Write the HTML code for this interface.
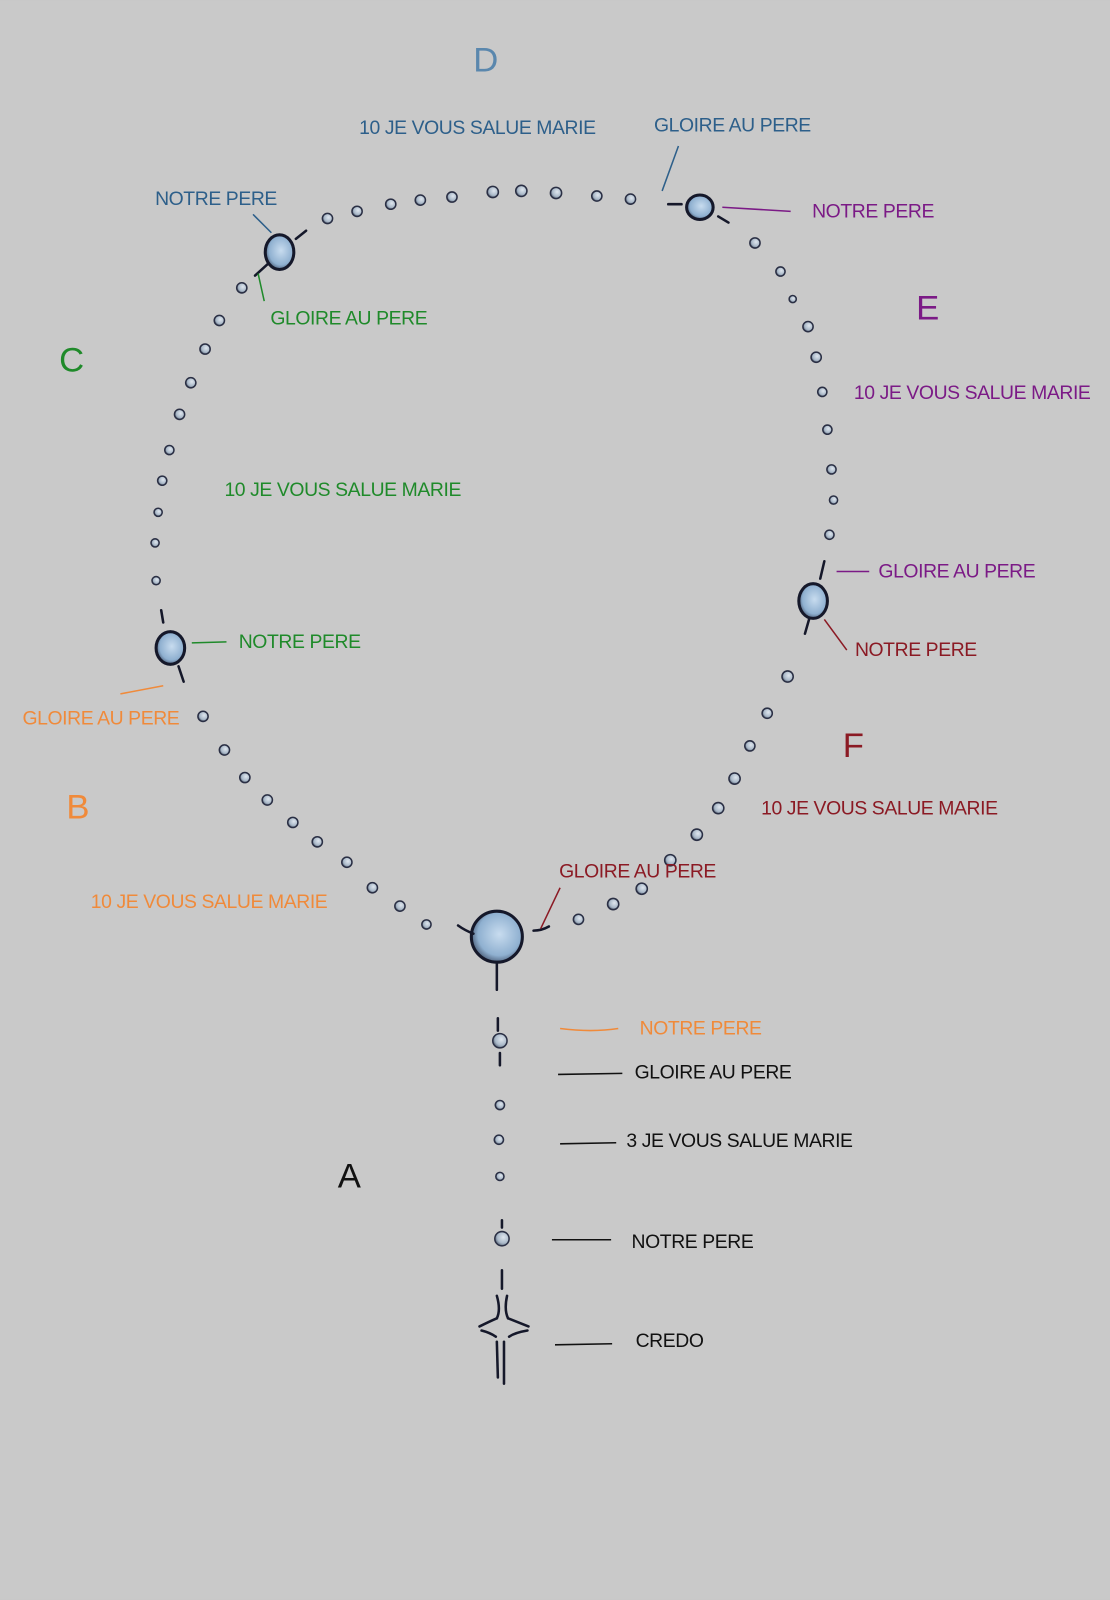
<!DOCTYPE html>
<html><head><meta charset="utf-8"><style>
html,body{margin:0;padding:0;background:#c9c9c9;}
svg{display:block}
text{font-family:"Liberation Sans",sans-serif;}
</style></head><body>
<svg width="1110" height="1600" viewBox="0 0 1088 1568" xmlns="http://www.w3.org/2000/svg">
<rect width="1088" height="1568" fill="#c9c9c9"/>
<defs>
<radialGradient id="bg" cx="0.6" cy="0.4" r="0.7"><stop offset="0" stop-color="#dfe6ee"/><stop offset="0.6" stop-color="#a9b8c8"/><stop offset="1" stop-color="#3a4458"/></radialGradient>
<radialGradient id="big" cx="0.55" cy="0.45" r="0.6"><stop offset="0" stop-color="#c8dcef"/><stop offset="0.7" stop-color="#8fb0d0"/><stop offset="1" stop-color="#40506a"/></radialGradient>
</defs>
<g fill="url(#bg)" stroke="#2a2f44" stroke-width="1.5">
<circle cx="321" cy="214" r="5"/><circle cx="350" cy="207" r="5"/><circle cx="383" cy="200" r="5"/><circle cx="412" cy="196" r="5"/><circle cx="443" cy="193" r="5"/><circle cx="483" cy="188" r="5.5"/><circle cx="511" cy="187" r="5.5"/><circle cx="545" cy="189" r="5.5"/><circle cx="585" cy="192" r="5"/><circle cx="618" cy="195" r="5"/>
<circle cx="740" cy="238" r="5"/><circle cx="765" cy="266" r="4.5"/><circle cx="777" cy="293" r="3.5"/><circle cx="792" cy="320" r="5"/><circle cx="800" cy="350" r="5"/><circle cx="806" cy="384" r="4.5"/><circle cx="811" cy="421" r="4.5"/><circle cx="815" cy="460" r="4.5"/><circle cx="817" cy="490" r="4"/><circle cx="813" cy="524" r="4.5"/>
<circle cx="772" cy="663" r="5.5"/><circle cx="752" cy="699" r="5"/><circle cx="735" cy="731" r="5"/><circle cx="720" cy="763" r="5.5"/><circle cx="704" cy="792" r="5.5"/><circle cx="683" cy="818" r="5.5"/><circle cx="657" cy="843" r="5.5"/><circle cx="629" cy="871" r="5.5"/><circle cx="601" cy="886" r="5.5"/><circle cx="567" cy="901" r="5"/>
<circle cx="418" cy="906" r="4.5"/><circle cx="392" cy="888" r="5"/><circle cx="365" cy="870" r="5"/><circle cx="340" cy="845" r="5"/><circle cx="311" cy="825" r="5"/><circle cx="287" cy="806" r="5"/><circle cx="262" cy="784" r="5"/><circle cx="240" cy="762" r="5"/><circle cx="220" cy="735" r="5"/><circle cx="199" cy="702" r="5"/>
<circle cx="153" cy="569" r="4"/><circle cx="152" cy="532" r="4"/><circle cx="155" cy="502" r="4"/><circle cx="159" cy="471" r="4.5"/><circle cx="166" cy="441" r="4.5"/><circle cx="176" cy="406" r="5"/><circle cx="187" cy="375" r="5"/><circle cx="201" cy="342" r="5"/><circle cx="215" cy="314" r="5"/><circle cx="237" cy="282" r="5"/>
<circle cx="490" cy="1020" r="7"/><circle cx="490" cy="1083" r="4.5"/><circle cx="489" cy="1117" r="4.5"/><circle cx="490" cy="1153" r="4"/><circle cx="492" cy="1214" r="7"/>
</g>
<g fill="url(#big)" stroke="#15182a" stroke-width="3">
<ellipse cx="686" cy="203" rx="13" ry="12"/>
<ellipse cx="797" cy="589" rx="14" ry="17"/>
<ellipse cx="167" cy="635" rx="14" ry="16"/>
<ellipse cx="274" cy="247" rx="14" ry="17"/>
<ellipse cx="487" cy="918" rx="25" ry="25"/>
</g>
<g stroke="#15182a" stroke-width="2.5" fill="none" stroke-linecap="round">
<path d="M655 200 L668 200"/><path d="M704 212 L714 218"/>
<path d="M808 550 L804 567"/><path d="M793 607 L789 621"/>
<path d="M158 598 L160 610"/><path d="M175 653 L180 668"/>
<path d="M250 270 L262 259"/><path d="M290 234 L300 226"/>
<path d="M449 907 Q456 912 464 915"/><path d="M523 912 Q531 912 538 908"/>
<path d="M487 944 L487 970"/><path d="M488 998 L488 1010"/><path d="M490 1032 L490 1044"/>
<path d="M492 1196 L492 1203"/><path d="M492 1245 L492 1263"/>
<path d="M487 1270 Q491 1284 487 1292"/><path d="M497 1270 Q494 1284 498 1292"/>
<path d="M470 1300 Q480 1295 487 1292"/><path d="M498 1292 Q508 1296 518 1300"/>
<path d="M472 1304 Q480 1306 486 1310"/><path d="M517 1304 Q505 1306 499 1310"/>
<path d="M487 1315 L488 1350"/><path d="M494 1315 L494 1356"/>
</g>
<g font-size="19" letter-spacing="-0.4">
<text x="476" y="70" fill="#5a87ad" font-size="34" text-anchor="middle">D</text>
<text x="352" y="131" fill="#2d5f8a">10 JE VOUS SALUE MARIE</text>
<text x="641" y="129" fill="#2d5f8a">GLOIRE AU PERE</text>
<text x="152" y="201" fill="#2d5f8a">NOTRE PERE</text>
<text x="796" y="213" fill="#7b1a86">NOTRE PERE</text>
<text x="898" y="313" fill="#7b1a86" font-size="34">E</text>
<text x="837" y="391" fill="#7b1a86">10 JE VOUS SALUE MARIE</text>
<text x="861" y="566" fill="#7b1a86">GLOIRE AU PERE</text>
<text x="838" y="643" fill="#8b1a24">NOTRE PERE</text>
<text x="826" y="742" fill="#8b1a24" font-size="34">F</text>
<text x="746" y="798" fill="#8b1a24">10 JE VOUS SALUE MARIE</text>
<text x="548" y="860" fill="#8b1a24">GLOIRE AU PERE</text>
<text x="58" y="364" fill="#1f8a2a" font-size="34">C</text>
<text x="265" y="318" fill="#1f8a2a">GLOIRE AU PERE</text>
<text x="220" y="486" fill="#1f8a2a">10 JE VOUS SALUE MARIE</text>
<text x="234" y="635" fill="#1f8a2a">NOTRE PERE</text>
<text x="22" y="710" fill="#f08a3a">GLOIRE AU PERE</text>
<text x="65" y="802" fill="#f08a3a" font-size="34">B</text>
<text x="89" y="890" fill="#f08a3a">10 JE VOUS SALUE MARIE</text>
<text x="627" y="1014" fill="#f08a3a">NOTRE PERE</text>
<text x="622" y="1057" fill="#111">GLOIRE AU PERE</text>
<text x="614" y="1124" fill="#111">3 JE VOUS SALUE MARIE</text>
<text x="331" y="1164" fill="#111" font-size="34">A</text>
<text x="619" y="1223" fill="#111">NOTRE PERE</text>
<text x="623" y="1320" fill="#111">CREDO</text>
</g>
<g stroke-width="1.5" fill="none">
<path d="M665 143 L649 187" stroke="#2d5f8a"/>
<path d="M248 210 L266 228" stroke="#2d5f8a"/>
<path d="M708 203 L775 207" stroke="#7b1a86"/>
<path d="M253 268 L259 295" stroke="#1f8a2a"/>
<path d="M820 560 L852 560" stroke="#7b1a86"/>
<path d="M808 607 L830 637" stroke="#8b1a24"/>
<path d="M549 870 L530 910" stroke="#8b1a24"/>
<path d="M188 630 L222 629" stroke="#1f8a2a"/>
<path d="M118 680 L160 672" stroke="#f08a3a"/>
<path d="M549 1008 Q580 1012 606 1008" stroke="#f08a3a"/>
<path d="M547 1053 L610 1052" stroke="#111"/>
<path d="M549 1121 L604 1120" stroke="#111"/>
<path d="M541 1215 L599 1215" stroke="#111"/>
<path d="M544 1318 L600 1317" stroke="#111"/>
</g>
</svg>
</body></html>
